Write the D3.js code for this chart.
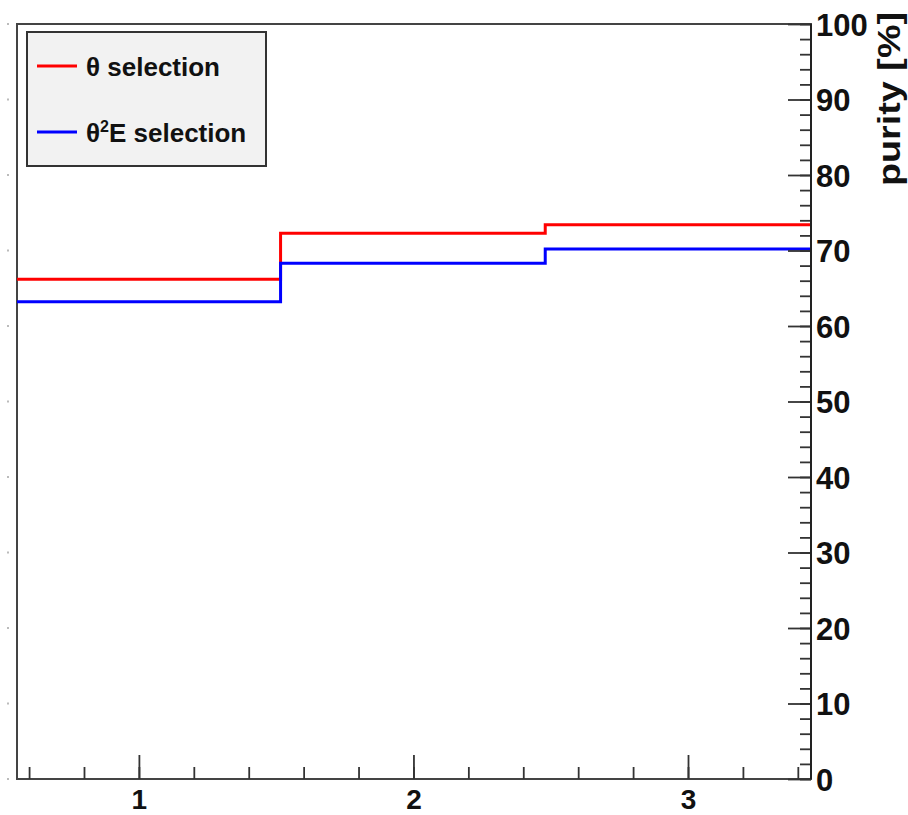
<!DOCTYPE html>
<html>
<head>
<meta charset="utf-8">
<script src="https://cdn.jsdelivr.net/npm/d3@7"></script>
<style>
  body { margin: 0; background: #fff; }
  svg { display: block; }
  text { font-family: "Liberation Sans", Arial, Helvetica, sans-serif; font-weight: bold; }
</style>
</head>
<body>
<div id="chart-area"></div>
<script>
const WIDTH = 908;
const HEIGHT = 815;

// histogram bins (x edges) and purity values per bin
const binEdges = [0.556, 1.516, 2.48, 3.448];
const thetaPurity = [66.2, 72.3, 73.4];
const theta2EPurity = [63.2, 68.3, 70.2];
const xTickLabels = [1, 2, 3];
const yTickLabels = [0, 10, 20, 30, 40, 50, 60, 70, 80, 90, 100];

const margin = { left: 17, right: 97, top: 24, bottom: 36 };
const plotW = WIDTH - margin.left - margin.right;
const plotH = HEIGHT - margin.top - margin.bottom;

const svg = d3.select("#chart-area").append("svg").attr("width", WIDTH).attr("height", HEIGHT);
const group = svg.append("g").attr("transform", `translate(${margin.left},${margin.top})`);

const x = d3.scaleLinear().domain([binEdges[0], binEdges[binEdges.length - 1]]).range([0, plotW]);
const y = d3.scaleLinear().domain([0, 100]).range([plotH, 0]);

// faint marks on the left edge (outside the frame)
group.selectAll("rect.leftdot").data(yTickLabels).enter().append("rect").
    attr("class", "leftdot").
    attr("x", -10).
    attr("y", d => y(d) - 1).
    attr("width", 2).
    attr("height", 2).
    attr("fill", "#bbb");

// frame
group.append("rect").
    attr("x", 0).attr("y", 0).
    attr("width", plotW).attr("height", plotH).
    attr("fill", "none").
    attr("stroke", "#444").
    attr("stroke-width", 2);

// step histograms
const stepLine = d3.line().x(d => x(d[0])).y(d => y(d[1])).curve(d3.curveStepAfter);
function histPoints(values) {
    const pts = values.map((v, i) => [binEdges[i], v]);
    pts.push([binEdges[binEdges.length - 1], values[values.length - 1]]);
    return pts;
}

group.append("path").
    attr("d", stepLine(histPoints(thetaPurity))).
    attr("fill", "none").
    attr("stroke", "#ff0000").
    attr("stroke-width", 3);

group.append("path").
    attr("d", stepLine(histPoints(theta2EPurity))).
    attr("fill", "none").
    attr("stroke", "#0000ff").
    attr("stroke-width", 3);

// x axis: major ticks at integers, minor every 0.2, pointing up
const xMinor = d3.range(0.6, 3.45, 0.2).map(v => +v.toFixed(1));
group.append("g").attr("class", "x minor").
    attr("transform", `translate(0,${plotH})`).
    call(d3.axisTop(x).tickValues(xMinor).tickSize(12).tickFormat("")).
    call(g => g.select(".domain").remove()).
    selectAll("line").attr("stroke", "#333").attr("stroke-width", 1.8);

group.append("g").attr("class", "x axis").
    attr("transform", `translate(0,${plotH})`).
    call(d3.axisTop(x).tickValues(xTickLabels).tickSize(24).tickFormat(d3.format("d"))).
    call(g => g.select(".domain").remove()).
    call(g => g.selectAll("line").attr("stroke", "#333").attr("stroke-width", 1.8)).
    selectAll("text").
    attr("y", 30).
    attr("dy", "0").
    attr("font-size", "28px").
    attr("fill", "#111");

// y axis on right: major every 10, minor every 2, pointing left
const yMinor = d3.range(0, 101, 2);
group.append("g").attr("class", "y minor").
    attr("transform", `translate(${plotW},0)`).
    call(d3.axisLeft(y).tickValues(yMinor).tickSize(11).tickFormat("")).
    call(g => g.select(".domain").remove()).
    selectAll("line").attr("stroke", "#333").attr("stroke-width", 1.8);

group.append("g").attr("class", "y axis").
    attr("transform", `translate(${plotW},0)`).
    call(d3.axisLeft(y).tickValues(yTickLabels).tickSize(23).tickFormat(d3.format("d"))).
    call(g => g.select(".domain").remove()).
    call(g => g.selectAll("line").attr("stroke", "#333").attr("stroke-width", 1.8)).
    selectAll("text").
    attr("x", 5).
    attr("dy", "0.36em").
    attr("text-anchor", "start").
    attr("font-size", "31px").
    attr("fill", "#111");

group.append("line").
    attr("x1", plotW).attr("x2", plotW).
    attr("y1", 0).attr("y2", plotH).
    attr("stroke", "#222").attr("stroke-width", 2);

group.append("text").attr("class", "y axis-label").
    attr("transform", `translate(${WIDTH - margin.left - 8},${12 - margin.top}) rotate(-90)`).
    attr("text-anchor", "end").
    attr("font-size", "31px").
    attr("textLength", 174).
    attr("lengthAdjust", "spacingAndGlyphs").
    attr("fill", "#111").
    text("purity [%]");

// legend
const legendItems = [
    { label: "θ selection", color: "#ff0000", sup: false },
    { label: "θ2E selection", color: "#0000ff", sup: true }
];
const legend = group.append("g").attr("transform", "translate(10,8)");
legend.append("rect").
    attr("width", 239).attr("height", 134).
    attr("fill", "#f2f2f2").
    attr("stroke", "#333").
    attr("stroke-width", 2);

const rows = legend.selectAll("g.row").data(legendItems).enter().append("g").
    attr("class", "row").
    attr("transform", (d, i) => `translate(0,${34 + i * 66})`);
rows.append("line").
    attr("x1", 10).attr("x2", 50).
    attr("stroke", d => d.color).
    attr("stroke-width", 3);
const labels = rows.append("text").
    attr("x", 59).
    attr("y", 10).
    attr("font-size", "26px").
    attr("fill", "#111");
labels.each(function(d) {
    const t = d3.select(this);
    if (d.sup) {
        t.append("tspan").text("θ");
        t.append("tspan").attr("font-size", "16px").attr("dy", -10).text("2");
        t.append("tspan").attr("dy", 10).text("E selection");
    } else {
        t.text(d.label);
    }
});
</script>
</body>
</html>
